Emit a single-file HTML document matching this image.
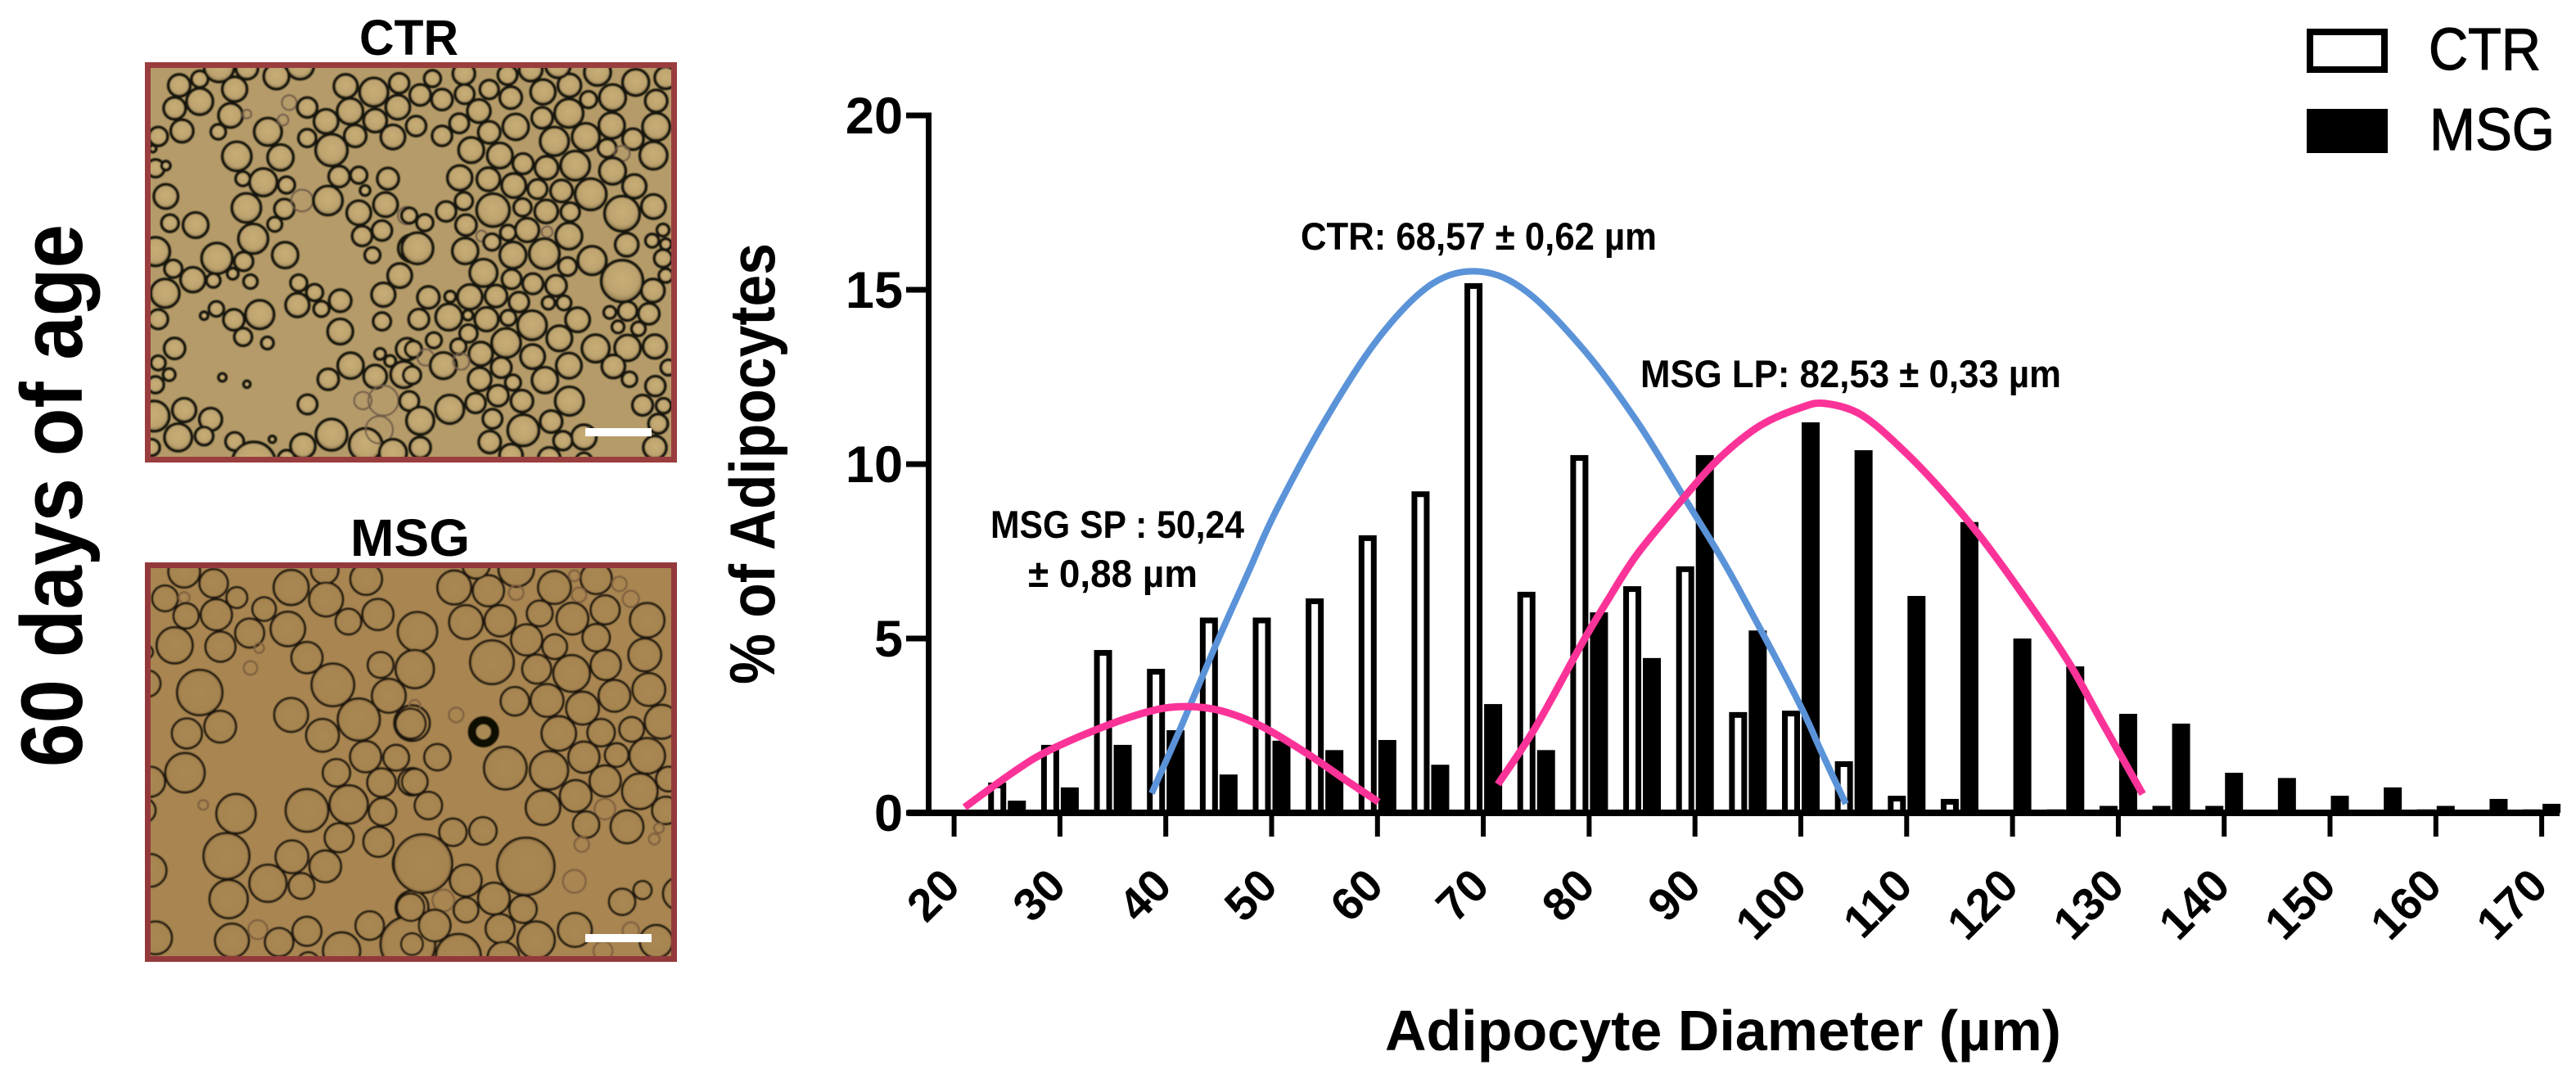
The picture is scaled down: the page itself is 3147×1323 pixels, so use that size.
<!DOCTYPE html>
<html lang="en">
<head>
<meta charset="utf-8">
<title>Adipocyte diameter distribution at 60 days of age</title>
<style>
html,body{margin:0;padding:0;background:#fff;width:3147px;height:1323px;overflow:hidden}
svg{position:absolute;left:0;top:0;display:block}
text{font-family:"Liberation Sans",sans-serif;fill:#000}
.b{font-weight:700}
</style>
</head>
<body>
<svg id="figure" xmlns="http://www.w3.org/2000/svg" width="3147" height="1323" viewBox="0 0 3147 1323">
  <defs>
    <filter id="soft" x="-30%" y="-30%" width="160%" height="160%"><feGaussianBlur stdDeviation="0.8"/></filter>
    <clipPath id="clip-ctr"><rect x="181" y="80" width="642" height="481"/></clipPath>
    <clipPath id="clip-msg"><rect x="181" y="691" width="642" height="481"/></clipPath>
    <radialGradient id="drop-ctr" cx="50%" cy="45%" r="55%">
      <stop offset="0%" stop-color="#c8ad76"/><stop offset="70%" stop-color="#bda36e"/><stop offset="100%" stop-color="#8c7850"/>
    </radialGradient>
    <radialGradient id="drop-msg" cx="50%" cy="50%" r="52%">
      <stop offset="0%" stop-color="#a98853"/><stop offset="84%" stop-color="#a68450"/><stop offset="100%" stop-color="#7c5f38"/>
    </radialGradient>
  </defs>
  <rect width="3147" height="1323" fill="#fff"/>

  <text class="b" transform="translate(100,937) rotate(-90)" font-size="107" textLength="663" lengthAdjust="spacingAndGlyphs">60 days of age</text>

  <text class="b" x="439" y="67" font-size="61" textLength="121" lengthAdjust="spacingAndGlyphs">CTR</text>
  <g>
    <rect x="177" y="76" width="650" height="489" fill="#b59b69"/>
    <g clip-path="url(#clip-ctr)">
      <g id="ctr-bubbles" filter="url(#soft)"></g>
    </g>
    <rect x="180.5" y="79.5" width="643" height="482" fill="none" stroke="#9a3d3e" stroke-width="7"/>
    <rect x="715" y="523" width="81" height="10" fill="#fff"/>
  </g>

  <text class="b" x="428" y="679" font-size="64" textLength="146" lengthAdjust="spacingAndGlyphs">MSG</text>
  <g>
    <rect x="177" y="687" width="650" height="488" fill="#a88551"/>
    <g clip-path="url(#clip-msg)">
      <g id="msg-bubbles" filter="url(#soft)"></g>
      <circle cx="590.7" cy="894" r="14" fill="#a98a55" stroke="#0c0703" stroke-width="10" filter="url(#soft)"/>
    </g>
    <rect x="180.5" y="690.5" width="643" height="481" fill="none" stroke="#94393b" stroke-width="7"/>
    <rect x="715" y="1141" width="81" height="10" fill="#fff"/>
  </g>

  <g id="chart">
    <g id="bars-ctr"></g>
    <g id="bars-msg"></g>
    <g id="axes"></g>
    <g id="curves"></g>
  </g>

  <text class="b" transform="translate(946,836) rotate(-90)" font-size="78" textLength="539" lengthAdjust="spacingAndGlyphs">% of Adipocytes</text>
  <text class="b" x="1692" y="1283" font-size="70" textLength="826" lengthAdjust="spacingAndGlyphs">Adipocyte Diameter (µm)</text>

  <text class="b" x="1589" y="305" font-size="47" textLength="435" lengthAdjust="spacingAndGlyphs">CTR: 68,57 ± 0,62 µm</text>
  <text class="b" x="2004" y="473" font-size="47" textLength="514" lengthAdjust="spacingAndGlyphs">MSG LP: 82,53 ± 0,33 µm</text>
  <text class="b" x="1210" y="657" font-size="47" textLength="310" lengthAdjust="spacingAndGlyphs">MSG SP : 50,24</text>
  <text class="b" x="1256" y="717" font-size="47" textLength="207" lengthAdjust="spacingAndGlyphs">± 0,88 µm</text>

  <g>
    <rect x="2822" y="39" width="91" height="46" fill="#fff" stroke="#000" stroke-width="8"/>
    <text x="2967" y="85" font-size="72" textLength="137" lengthAdjust="spacingAndGlyphs" stroke="#000" stroke-width="1.2">CTR</text>
    <rect x="2818" y="133" width="99" height="54" fill="#000"/>
    <text x="2968" y="183" font-size="72" textLength="153" lengthAdjust="spacingAndGlyphs" stroke="#000" stroke-width="1.2">MSG</text>
  </g>
</svg>

<script>
// ---------- chart data ----------
const binCenters = [25,30,35,40,45,50,55,60,65,70,75,80,85,90,95,100,105,110,115,120,125,130,135,140,145,150,155,160,165,170];
const ctrPercent = [0.87,1.95,4.67,4.13,5.6,5.6,6.15,7.96,9.22,15.19,6.34,10.26,6.5,7.07,2.89,2.93,1.48,0.49,0.4,0,0.1,0.2,0.2,0.2,0,0,0,0.1,0,0.1];
const msgPercent = [0.35,0.73,1.95,2.37,1.1,2.07,1.8,2.09,1.38,3.12,1.8,5.75,4.44,10.26,5.23,11.2,10.4,6.22,8.34,5.0,4.2,2.84,2.56,1.15,1.0,0.49,0.73,0.2,0.4,0.26];
const xTickValues = [20,30,40,50,60,70,80,90,100,110,120,130,140,150,160,170];
const yTickValues = [0,5,10,15,20];
const ctrCurveX = [38.67,41.38,44.62,47.87,50.5,55.45,60.4,65.27,69.76,74.17,79.66,84.53,88.95,92.27,94.59,99.77,101.9,104.25];
const ctrCurveY = [0.56,2.42,4.74,6.95,8.71,11.46,13.73,15.19,15.52,14.93,13.22,11.22,9.06,7.42,6.17,3.19,1.78,0.26];
const msgSpCurveX = [21,25.6,28.9,34.3,38.7,41.9,45.2,49,53.3,57,60.1];
const msgSpCurveY = [0.16,1.17,1.78,2.49,2.93,3.05,2.93,2.49,1.71,0.94,0.31];
const msgLpCurveX = [71.38,75,79.36,81.68,84.55,88.95,92.27,96.14,100,102.3,105.73,109.67,113.6,117,120.9,125.2,128.5,132.3];
const msgLpCurveY = [0.82,2.49,4.88,6.06,7.42,9.04,10.16,11.1,11.62,11.74,11.41,10.4,9.15,7.91,6.29,4.37,2.58,0.54];

// ---------- micrograph droplets: [cx, cy, r, faint] in 3x crop units ----------
const ctrLeftDrops = [[147,103,40],[222,80,30],[293,35,55],[350,117,45],[395,40,40],[503,70,46],[590,30,50],[222,162,48],[130,187,40],[335,213,44],[395,208,16,1],[157,270,41],[70,290,34],[290,273,27],[472,273,50],[550,166,27,1],[616,184,36],[527,230,20,1],[685,235,44],[757,106,43],[860,128,52],[953,95,36],[773,198,47],[948,183,44],[865,232,42],[792,288,40],[930,292,44],[616,296,32],[705,340,58],[358,363,53],[518,367,47],[50,335,12],[60,407,32],[98,397,16],[380,445,26],[455,458,50],[540,468,30],[733,437,38],[805,432,30],[912,445,39],[828,488,18],[98,510,44],[393,552,53],[532,556,36],[597,525,40,1],[692,525,53],[805,570,44],[903,540,44],[980,580,32,1],[113,608,31],[207,615,46],[497,612,26],[418,665,54],[817,655,36],[890,635,36],[1000,700,50],[60,712,52],[285,737,56],[535,725,47],[855,725,28],[383,748,34],[125,775,32],[197,815,45],[272,818,25],[343,793,20],[408,822,25],[95,865,52],[955,800,44],[585,827,30],[643,862,30],[580,908,43],[737,892,40],[895,870,43],[283,922,27],[442,943,52],[347,962,38],[668,922,28],[70,960,35],[890,968,32],[238,947,14],[381,1025,32],[737,1005,46],[130,1067,38],[70,1120,26],[110,1163,22],[60,1200,30],[470,1047,22],[775,1130,47],[982,1070,40],[883,1087,20],[920,1113,20],[693,1180,38],[865,1170,42],[970,1163,48],[305,1173,14],[395,1198,12],[820,1258,32,1],[895,1258,55,1],[617,1272,35],[165,1293,43],[262,1327,41],[55,1315,55],[143,1393,50],[238,1388,33],[350,1408,33],[488,1400,12],[705,1383,57],[600,1425,45],[420,1490,80],[830,1420,60],[880,1365,50,1],[930,1450,50],[45,1430,30],[540,1470,30]];
const ctrRightDrops = [[85,78,30],[40,138,38],[120,155,38],[200,60,40],[203,135,35],[293,118,34],[360,65,35],[372,148,40],[445,45,42],[490,127,45],[587,103,42],[545,30,45],[690,55,48],[830,92,48],[940,75,40],[657,155,30],[745,148,48],[905,160,40],[255,197,42],[183,242,35],[25,252,36],[120,288,36],[293,275,40],[390,255,47],[487,222,38],[585,205,52],[742,250,47],[905,255,50],[532,308,52],[647,292,50],[820,300,38],[725,333,33],[780,352,28,1],[895,360,50],[227,340,46],[332,360,46],[417,390,37],[503,405,42],[608,397,53],[745,417,48],[185,442,45],[290,447,42],[383,470,44],[470,483,35],[558,490,40],[825,473,43],[665,502,57],[200,527,32],[307,560,60],[135,565,36],[415,550,32],[502,565,42],[590,567,34],[780,573,64],[895,547,44],[57,606,30],[0,580,28],[208,615,38],[265,655,20,1],[303,677,30],[362,643,28],[432,633,43],[505,640,20,1],[585,655,48],[930,633,22],[797,687,42],[890,672,24],[940,685,20],[30,700,57],[205,710,47],[380,725,48],[495,720,55],[670,745,52],[580,767,33],[930,737,32],[272,790,50],[375,813,35],[453,830,37],[538,837,38],[780,820,76],[70,880,40],[150,877,20],[222,878,45],[318,875,40],[402,897,36],[510,900,23],[567,900,26],[893,855,42],[940,800,25],[35,960,37],[145,952,48],[215,945,18],[283,960,43],[363,955,28],[450,982,53],[617,962,44],[800,930,34],[735,935,22],[878,940,38],[217,1012,32],[90,1037,28],[765,988,22],[840,995,25],[355,1047,53],[550,1030,46],[683,1067,50],[800,1065,47],[900,1060,43],[180,1060,28],[15,1070,30],[262,1087,43],[60,1100,30,1],[125,1130,48],[190,1115,30,1],[452,1097,44],[337,1137,37],[585,1130,46],[748,1133,42],[807,1180,27],[10,1165,32],[258,1180,42],[380,1192,28],[497,1183,47],[950,1137,28],[902,1205,36],[325,1240,38],[243,1267,36],[413,1260,40],[587,1260,52],[855,1275,37],[932,1277,27],[148,1290,52],[0,1260,35],[40,1332,50],[305,1325,35],[520,1335,40],[418,1367,57],[912,1343,35],[640,1392,45],[563,1405,34],[295,1410,40],[900,1430,42],[40,1430,38],[373,1460,42],[513,1470,40],[640,1480,30]];
const msgLeftDrops = [[165,55,58],[273,98,52],[95,153,47],[358,150,38],[165,150,20,1],[172,217,46],[283,213,57],[458,192,43],[557,113,64],[680,50,50],[685,157,62],[832,82,58],[767,238,47],[875,212,57],[130,325,66],[298,330,55],[405,280,53],[545,265,63],[615,370,57],[1010,275,50],[440,335,18,1],[408,408,25,1],[25,350,25],[30,465,48],[222,498,83],[710,470,78],[885,397,47],[1010,410,60],[915,510,62],[557,580,62],[672,655,60],[805,597,77],[175,648,55],[297,623,58],[1000,610,65],[830,733,57],[942,737,47],[168,792,72],[40,825,55],[723,792,50],[888,828,52],[1000,825,50],[355,942,72],[615,930,78],[768,908,70],[892,935,50],[15,930,45],[733,1030,53],[877,1045,55],[320,1097,84],[560,1100,60],[682,1135,58],[40,1150,60],[1010,1125,80],[472,1197,68],[595,1207,47],[328,1255,70],[1000,1285,60],[60,1397,60],[340,1407,62],[435,1367,35,1],[513,1413,52],[615,1373,53],[845,1352,52],[742,1445,68],[985,1420,100],[620,1490,40],[235,910,18,1]];
const msgRightDrops = [[165,113,62],[290,125,57],[392,45,65],[532,113,60],[685,80,57],[245,30,50],[392,132,27,1],[605,70,20,1],[770,100,27,1],[622,140,27,1],[812,155,30,1],[718,195,53],[478,208,47],[598,227,58],[208,240,62],[333,235,57],[872,233,63],[30,275,72],[430,305,57],[533,330,45],[685,297,50],[20,412,70],[303,387,80],[467,412,53],[595,428,67],[720,397,55],[863,360,60],[878,487,60],[387,530,52],[505,527,60],[635,555,60],[752,510,58],[20,545,20,1],[5,612,55],[172,580,27,1],[925,605,62],[815,633,45],[703,645,50],[548,648,63],[103,735,48],[640,735,57],[760,727,43],[872,730,65],[352,775,78],[512,783,70],[718,822,57],[610,877,58],[845,860,65],[950,815,45],[20,825,47],[70,912,50],[490,920,63],[717,925,38,1],[940,930,50],[648,982,48],[798,990,60],[160,1010,50],[270,1005,50],[915,995,18,1],[898,1035,20,1],[632,1055,27,1],[50,1125,107],[427,1135,105],[207,1187,58],[605,1190,42,1],[855,1222,33],[780,1265,48],[990,1235,60],[125,1260,40,1],[5,1285,50],[310,1253,58],[208,1295,45],[417,1292,50],[93,1352,58],[333,1363,53],[607,1368,62],[465,1405,68],[905,1410,60],[812,1370,30,1],[180,1465,82],[10,1420,40],[345,1470,58],[710,1445,35,1]];

// ---------- axis functions ----------
function xScale(v){ return 1165.6 + (v - 20) * 12.93; }
function yScale(v){ return 993 - v * 42.6; }

const NS = 'http://www.w3.org/2000/svg';
function svgEl(tag, parent, props){
  const el = document.createElementNS(NS, tag);
  for (const k in props) el.setAttribute(k, props[k]);
  parent.appendChild(el);
  return el;
}

// ---------- bars ----------
const barsCtr = document.getElementById('bars-ctr');
const barsMsg = document.getElementById('bars-msg');
const BASE = yScale(0);
binCenters.forEach(function(c, i){
  const cx = xScale(c);
  if (ctrPercent[i] > 0) {
    const top = yScale(ctrPercent[i]);
    const el = svgEl('rect', barsCtr, {x: cx - 23 + 3.5, y: Math.min(top + 3.5, BASE), width: 15, height: Math.max(BASE - top - 3.5, 0), fill: '#fff', stroke: '#000', 'stroke-width': 7});
    
    
  }
  const top2 = yScale(msgPercent[i]);
  const el2 = svgEl('rect', barsMsg, {x: cx + 1, y: top2, width: 22, height: BASE - top2, fill: '#000'});
  
  
});

// ---------- axes ----------
const axes = document.getElementById('axes');
const yLine = svgEl('rect', axes, {x: 1131, y: yScale(20) - 3.5, width: 7, height: yScale(0) - yScale(20) + 7.5, fill: '#000'});


const xLine = svgEl('rect', axes, {x: 1109, y: 989, width: 2018, height: 8, fill: '#000'});



yTickValues.forEach(function(v){
  const t = svgEl('rect', axes, {x: 1107, y: yScale(v) - 3.5, width: 26, height: 7, fill: '#000'});
  
  
  const l = svgEl('text', axes, {x: 1103, y: yScale(v) + 22, 'text-anchor': 'end', 'font-size': 63, 'font-weight': 700});
  
  
  l.textContent = String(v);
});

xTickValues.forEach(function(v){
  const x = xScale(v);
  const t = svgEl('rect', axes, {x: x - 3, y: 997, width: 6, height: 25, fill: '#000'});
  
  
  const l = svgEl('text', axes, {transform: 'translate(' + (x + 10) + ',1085) rotate(-45)', 'text-anchor': 'end', 'font-size': 56, 'font-weight': 700});
  
  
  l.textContent = String(v);
});

// ---------- curves (smooth path through the read points) ----------
function curvePath(xs, ys){
  const p = xs.map(function(x, i){ return [xScale(x), yScale(ys[i])]; });
  let d = 'M' + p[0][0].toFixed(1) + ' ' + p[0][1].toFixed(1);
  for (let i = 0; i < p.length - 1; i++) {
    const a = p[Math.max(i - 1, 0)], b = p[i], c = p[i + 1], e = p[Math.min(i + 2, p.length - 1)];
    d += 'C' + (b[0] + (c[0] - a[0]) / 6).toFixed(1) + ' ' + (b[1] + (c[1] - a[1]) / 6).toFixed(1) + ' ' +
         (c[0] - (e[0] - b[0]) / 6).toFixed(1) + ' ' + (c[1] - (e[1] - b[1]) / 6).toFixed(1) + ' ' +
         c[0].toFixed(1) + ' ' + c[1].toFixed(1);
  }
  return d;
}
const curves = document.getElementById('curves');
const ctrCurve = svgEl('path', curves, {d: curvePath(ctrCurveX, ctrCurveY), fill: 'none', stroke: '#5b93d8', 'stroke-width': 8});


const spCurve = svgEl('path', curves, {d: curvePath(msgSpCurveX, msgSpCurveY), fill: 'none', stroke: '#fb3399', 'stroke-width': 9});


const lpCurve = svgEl('path', curves, {d: curvePath(msgLpCurveX, msgLpCurveY), fill: 'none', stroke: '#fb3399', 'stroke-width': 9});



// ---------- micrograph droplets ----------
function addDrops(parentId, list, ox, oy, fill, strong, faint, sw){
  const parent = document.getElementById(parentId);
  const g = svgEl('g', parent, {transform: 'translate(' + ox + ',' + oy + ') scale(0.33333)'});
  
  
  list.forEach(function(d){
    const isFaint = d[3] === 1;
    const c = svgEl('circle', g, {cx: d[0], cy: d[1], r: d[2], fill: isFaint ? 'none' : fill, stroke: isFaint ? faint : strong, 'stroke-width': isFaint ? 6 : sw});
    
    
  });
}
addDrops('ctr-bubbles', ctrLeftDrops, 170, 70, 'url(#drop-ctr)', '#17130a', '#6e5a48', 11);
addDrops('ctr-bubbles', ctrRightDrops, 500, 70, 'url(#drop-ctr)', '#17130a', '#6e5a48', 11);
addDrops('msg-bubbles', msgLeftDrops, 170, 680, 'url(#drop-msg)', '#1c1409', '#7a5c3c', 8);
addDrops('msg-bubbles', msgRightDrops, 500, 680, 'url(#drop-msg)', '#1c1409', '#7a5c3c', 8);
</script>
</body>
</html>
